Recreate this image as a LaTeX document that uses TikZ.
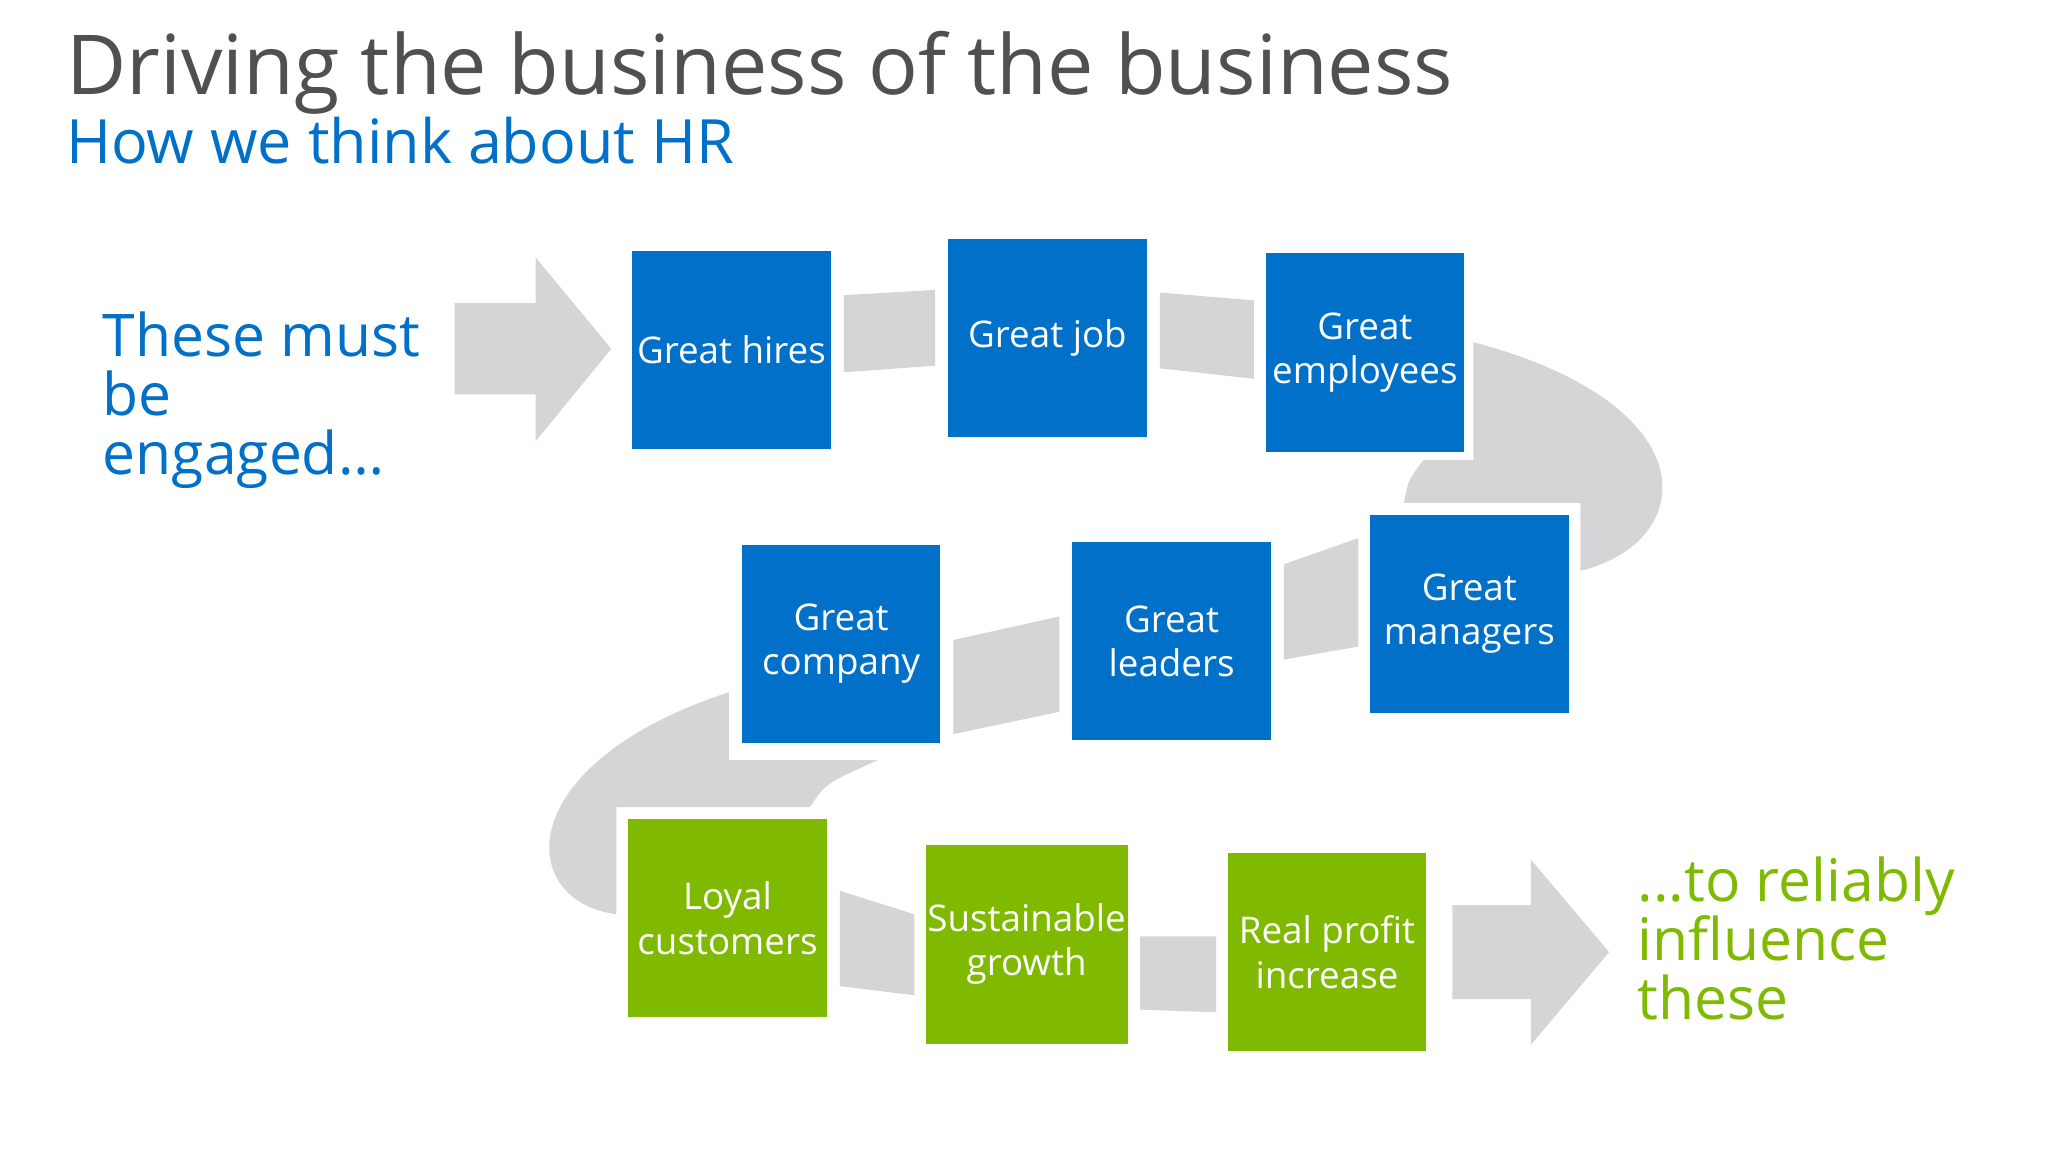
\documentclass[tikz,border=0pt]{standalone}
\usepackage{fontspec}
\setmainfont{Open Sans}
\definecolor{hrblue}{HTML}{0070C8}
\definecolor{hrgreen}{HTML}{7FBA00}
\definecolor{band}{HTML}{D5D5D8}
\definecolor{titlegray}{HTML}{505050}
\begin{document}
\begin{tikzpicture}[x=0.01cm,y=-0.01cm,
  box/.style={minimum width=1.56cm,minimum height=1.56cm,draw=white,line width=1.2pt,text=white,align=center,font=\fontsize{8}{9.6}\selectfont,inner sep=1pt},
  bluebox/.style={box,fill=hrblue},
  greenbox/.style={box,fill=hrgreen},
  bandfill/.style={fill=band}]
\useasboundingbox[fill=white] (0,0) rectangle (1568,882);
% title
\node[anchor=base west,inner sep=0,text=titlegray,font=\fontsize{18}{20}\selectfont] (title) at (50,72) {Driving the business of the business};
\node[anchor=base west,inner sep=0,text=hrblue,font=\fontsize{13.3}{15}\selectfont] (sub) at (50,125) {How we think about HR};
\node[anchor=north west,inner sep=0,text=hrblue,align=left,font=\fontsize{12.8}{12.9}\selectfont] (left) at (78,238) {These must\\be\\engaged\dots};
\node[anchor=north west,inner sep=0,text=hrgreen,align=left,font=\fontsize{12.8}{12.9}\selectfont] (right) at (1253,655) {...to reliably\\influence\\these};
% big arrows
\fill[band] (348,232) -- (410,232) -- (410,197) -- (468,267) -- (410,338) -- (410,302) -- (348,302) -- cycle;
\fill[band] (1112,693) -- (1172,693) -- (1172,658) -- (1232,729) -- (1172,800) -- (1172,765) -- (1112,765) -- cycle;
% curved bands
\fill[band] (1128,262) .. controls (1310,310) and (1300,415) .. (1210,437) -- (1210,385) -- (1075,385) .. controls (1078,368) .. (1090,352) -- (1128,352) -- cycle;
\fill[band] (558,530) .. controls (390,585) and (395,690) .. (472,700) -- (472,618) -- (620,618) .. controls (632,600) .. (672,582) -- (558,582) -- cycle;
% straight connectors
\fill[band] (646,226) -- (716,222) -- (716,280) -- (646,285) -- cycle;
\fill[band] (888,224) -- (960,230) -- (960,290) -- (888,282) -- cycle;
\fill[band] (983,432) -- (1040,412) -- (1040,495) -- (983,505) -- cycle;
\fill[band] (730,490) -- (811,472) -- (811,545) -- (730,562) -- cycle;
\fill[band] (643,682) -- (700,700) -- (700,762) -- (643,755) -- cycle;
\fill[band] (873,717) -- (931,717) -- (931,775) -- (873,773) -- cycle;
% boxes
\node[bluebox] (hires) at (560,268) {Great hires};
\node[bluebox] (job) at (802,259) {Great job};
\node[bluebox] (emp) at (1045,270) {Great\\employees};
\node[bluebox] (comp) at (644,493) {Great\\company};
\node[bluebox] (lead) at (897,491) {Great\\leaders};
\node[bluebox] (mgr) at (1125,470) {Great\\managers};
\node[greenbox] (loyal) at (557,703) {Loyal\\customers};
\node[greenbox] (sust) at (786,723) {Sustainable\\growth};
\node[greenbox] (profit) at (1016,729) {Real profit\\increase};
\end{tikzpicture}
\end{document}
